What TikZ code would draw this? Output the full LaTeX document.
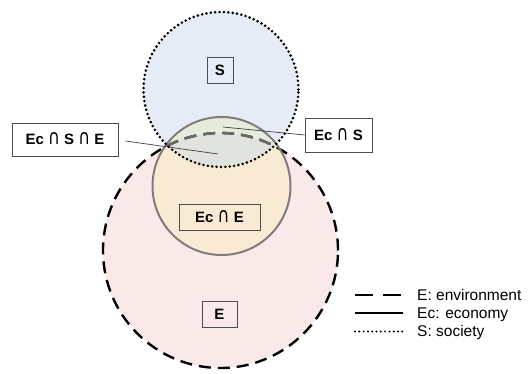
\documentclass[tikz,border=0pt]{standalone}
\usepackage{graphicx}
\usepackage{fontspec}
\setmainfont{Liberation Sans}
\newfontfamily\capfont{DejaVu Sans}
\newcommand{\capsym}{\scalebox{1.08}[1.38]{\capfont\mdseries ∩}}
\definecolor{envfill}{HTML}{F9E9E9}
\definecolor{ecofill}{HTML}{F9EAD4}
\definecolor{socfill}{HTML}{E6ECF6}
\definecolor{socenv}{HTML}{EDE7EE}
\definecolor{socecofill}{HTML}{E5ECDC}
\definecolor{allfill}{HTML}{E1E3DE}
\definecolor{ecoline}{HTML}{827B7B}
\definecolor{boxline}{HTML}{4D4D4D}
\definecolor{leader}{HTML}{404040}
\begin{document}
\begin{tikzpicture}[x=1pt,y=-1pt,
  envline/.style={line width=2.4pt,dash pattern=on 12pt off 7pt},
  ecoborder/.style={line width=2pt,draw=ecoline},
  socline/.style={line width=2.9pt,line cap=round,dash pattern=on 0pt off 4.4pt},
  tag/.style={draw=boxline,line width=0.9pt,inner sep=0pt,
    font=\fontsize{15}{18}\selectfont\bfseries,text height=11pt,text depth=0pt},
  leaderline/.style={draw=leader,line width=0.7pt},
  legtext/.style={anchor=west,inner sep=0pt,font=\fontsize{15.5}{18}\selectfont,
    text height=11pt,text depth=0pt}]
\useasboundingbox (0,0) rectangle (528,374);

% centres of the three circles
\coordinate (cS) at (221,89.5);
\coordinate (cEc) at (221.5,186);
\coordinate (cE) at (220.5,250.5);
\def\rS{77.5pt}
\def\rEc{69pt}
\def\rE{117.5pt}

% region fills
\fill[envfill] (cE) circle[radius=\rE];
\fill[ecofill] (cEc) circle[radius=\rEc];
\fill[socfill] (cS) circle[radius=\rS];
\begin{scope}
  \clip (cS) circle[radius=\rS];
  \fill[socenv] (cE) circle[radius=\rE];
  \fill[socecofill] (cEc) circle[radius=\rEc];
  \clip (cEc) circle[radius=\rEc];
  \fill[allfill] (cE) circle[radius=\rE];
\end{scope}

% outlines
\draw[envline] (cE) circle[radius=\rE];
\begin{scope}
  \clip (cS) circle[radius=\rS];
  \draw[envline,draw=black!58] (cE) circle[radius=\rE];
\end{scope}
\draw[ecoborder] (cEc) circle[radius=\rEc];
\draw[socline] (cS) circle[radius=\rS];

% labels
\node[tag,minimum width=26pt,minimum height=26pt] (lS) at (220,70) {S};
\node[tag,minimum width=81pt,minimum height=26pt] (lEcE) at (219.5,217) {Ec \capsym{} E};
\node[tag,minimum width=35pt,minimum height=26pt] (lE) at (219.5,314) {E};
\node[tag,minimum width=106pt,minimum height=33pt] (lEcSE) at (65,139.5) {Ec \capsym{} S \capsym{} E};
\node[tag,minimum width=67pt,minimum height=34pt] (lEcS) at (338.5,135) {Ec \capsym{} S};

% leader lines
\coordinate (pEcSE) at (218,154);
\coordinate (pEcS) at (223,127);
\draw[leaderline] ([xshift=7pt,yshift=-1.5pt]lEcSE.east) -- (pEcSE);
\draw[leaderline] (lEcS.west) -- (pEcS);

% legend
\coordinate (a1) at (355,295);
\coordinate (b1) at (403,295);
\coordinate (a2) at (355,313);
\coordinate (b2) at (403,313);
\coordinate (a3) at (355,331.5);
\coordinate (b3) at (403,331.5);
\draw[line width=2.4pt,dash pattern=on 18pt off 10pt] (a1) -- (b1);
\draw[line width=2.2pt] (a2) -- (b2);
\draw[line width=2.2pt,line cap=round,dash pattern=on 0pt off 4.3pt] (a3) -- (b3);
\node[legtext] (t1) at (417,295) {E: environment};
\node[legtext] (t2) at (417,313) {Ec: economy};
\node[legtext] (t3) at (417,331.5) {S: society};
\end{tikzpicture}
\end{document}
